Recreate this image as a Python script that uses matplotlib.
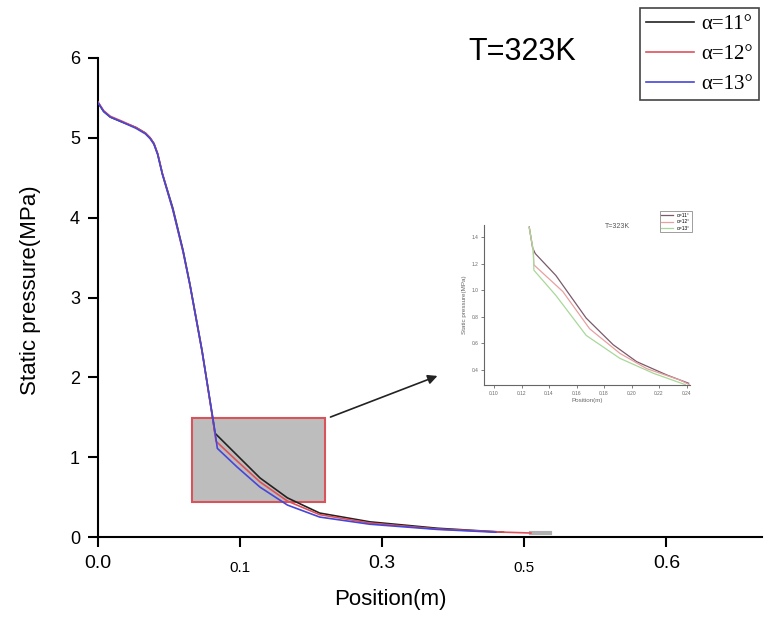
import matplotlib
matplotlib.use("Agg")
import matplotlib.pyplot as plt
from matplotlib.patches import Rectangle

plt.rcParams['font.family'] = ['Liberation Sans', 'DejaVu Sans']

# main curves: position (m) vs static pressure (MPa)
pos_11 = [0, 0.006, 0.013, 0.025, 0.04, 0.05, 0.055, 0.059, 0.063, 0.068, 0.079, 0.0898,
          0.097, 0.1098, 0.1214, 0.1235, 0.1468, 0.171, 0.2, 0.234, 0.287, 0.358, 0.428]
p_11 = [5.44, 5.33, 5.26, 5.2, 5.13, 5.06, 5.0, 4.93, 4.8, 4.55, 4.12, 3.59,
        3.17, 2.34, 1.46, 1.30, 1.025, 0.74, 0.49, 0.30, 0.19, 0.11, 0.06]

pos_12 = [0, 0.006, 0.013, 0.025, 0.04, 0.05, 0.055, 0.059, 0.063, 0.068, 0.079, 0.0898,
          0.097, 0.1098, 0.1216, 0.1245, 0.147, 0.171, 0.2, 0.234, 0.287, 0.358, 0.43, 0.457]
p_12 = [5.45, 5.34, 5.27, 5.21, 5.13, 5.06, 5.0, 4.93, 4.8, 4.55, 4.1, 3.57,
        3.16, 2.33, 1.45, 1.2, 0.95, 0.69, 0.45, 0.28, 0.175, 0.1, 0.06, 0.05]

pos_13 = [0, 0.006, 0.013, 0.025, 0.04, 0.05, 0.055, 0.059, 0.063, 0.068, 0.079, 0.0898,
          0.097, 0.1098, 0.1225, 0.126, 0.147, 0.171, 0.2, 0.234, 0.287, 0.358, 0.42]
p_13 = [5.44, 5.33, 5.26, 5.2, 5.12, 5.05, 4.99, 4.92, 4.79, 4.54, 4.1, 3.58,
        3.16, 2.33, 1.40, 1.11, 0.875, 0.625, 0.40, 0.25, 0.16, 0.095, 0.06]

tail_pos = [0.457, 0.477]
tail_p = [0.05, 0.05]

# zoomed region
box_x = [0.0993, 0.2397]
box_y = [0.44, 1.49]

x_ticks = [0, 0.15, 0.3, 0.45, 0.6]
x_labels = ['0.0', '0.1', '0.3', '0.5', '0.6']
y_ticks = [0, 1, 2, 3, 4, 5, 6]

# inset data
in_pos_11 = [0.1256, 0.128, 0.130, 0.145, 0.167, 0.1866, 0.2037, 0.2256, 0.2415]
in_p_11 = [1.475, 1.32, 1.275, 1.11, 0.79, 0.59, 0.4625, 0.3625, 0.30]
in_pos_12 = [0.1256, 0.1285, 0.129, 0.150, 0.1695, 0.1915, 0.211, 0.235, 0.242]
in_p_12 = [1.47, 1.30, 1.19, 0.99, 0.71, 0.525, 0.41, 0.325, 0.29]
in_pos_13 = [0.1256, 0.1285, 0.129, 0.145, 0.167, 0.1915, 0.2159, 0.239]
in_p_13 = [1.47, 1.30, 1.15, 0.96, 0.66, 0.4875, 0.375, 0.29]
in_x_ticks = [0.10, 0.12, 0.14, 0.16, 0.18, 0.20, 0.22, 0.24]
in_y_ticks = [0.4, 0.6, 0.8, 1.0, 1.2, 1.4]

labels = ['\u03b1=11\u00b0', '\u03b1=12\u00b0', '\u03b1=13\u00b0']

fig = plt.figure(figsize=(7.68, 6.23), dpi=100)
ax = fig.add_axes([98/768, 86/623, 664/768, 479/623])

ax.add_patch(Rectangle((box_x[0], box_y[0]), box_x[1]-box_x[0], box_y[1]-box_y[0],
                       facecolor='#bdbdbd', edgecolor='#d9545a', lw=1.5, zorder=1))
ax.plot(tail_pos, tail_p, color='#b0b0b0', lw=3, zorder=2)
l1, = ax.plot(pos_11, p_11, color='#222222', lw=1.2, zorder=3)
l2, = ax.plot(pos_12, p_12, color='#e0505a', lw=1.2, zorder=3)
l3, = ax.plot(pos_13, p_13, color='#4646d8', lw=1.2, zorder=4)

ax.annotate('', xy=(0.3611, 2.03), xytext=(box_x[1] + 0.003, box_y[1]),
            arrowprops=dict(arrowstyle='-|>', color='#222222', lw=1.2, mutation_scale=14))

ax.set_xlim(0, 0.701)
ax.set_ylim(0, 6)
ax.spines['top'].set_visible(False)
ax.spines['right'].set_visible(False)
ax.spines['left'].set_linewidth(1.5)
ax.spines['bottom'].set_linewidth(1.5)
ax.set_xticks(x_ticks)
ax.set_xticklabels(x_labels)
ax.set_yticks(y_ticks)
ax.tick_params(axis='both', direction='out', length=7, width=1.5, pad=6)
ax.tick_params(axis='x', labelsize=14)
ax.tick_params(axis='y', labelsize=13)
for lab in ax.get_xticklabels():
    if lab.get_text() in ('0.1', '0.5'):
        lab.set_fontsize(11)
        lab.set_y(-0.012)

ax.set_ylabel('Static pressure(MPa)', fontsize=16)
ax.yaxis.set_label_coords(-0.086, 0.516)
ax.set_xlabel('Position(m)', fontsize=16)
ax.xaxis.set_label_coords(0.44, -0.108)

fig.text(522/768, 1 - 52/623, 'T=323K', fontsize=22, ha='center', va='center')

leg = fig.legend([l1, l2, l3], labels, loc='upper left',
                 bbox_to_anchor=(640/768, 1 - 8/623), borderaxespad=0,
                 prop={'family': ['Liberation Serif', 'DejaVu Serif'], 'size': 15},
                 handlelength=2.3, handletextpad=0.35, labelspacing=0.5,
                 borderpad=0.3, fancybox=False, framealpha=1)
leg.get_frame().set_edgecolor('#444444')
leg.get_frame().set_linewidth(1.2)

# inset plot
axi = fig.add_axes([484/768, 1 - 385/623, 206/768, 160/623])
li1, = axi.plot(in_pos_11, in_p_11, color='#7a5a6a', lw=0.9)
li2, = axi.plot(in_pos_12, in_p_12, color='#e8a0a0', lw=0.9)
li3, = axi.plot(in_pos_13, in_p_13, color='#a8d898', lw=0.9)
axi.set_xlim(0.0927, 0.2425)
axi.set_ylim(0.287, 1.49)
axi.spines['top'].set_visible(False)
axi.spines['right'].set_visible(False)
for s in ('left', 'bottom'):
    axi.spines[s].set_color('#666666')
    axi.spines[s].set_linewidth(0.8)
axi.set_xticks(in_x_ticks)
axi.set_xticklabels(['%.2f' % v for v in in_x_ticks])
axi.set_yticks(in_y_ticks)
axi.tick_params(axis='both', direction='out', length=2, width=0.6, pad=2,
                labelsize=3.5, colors='#666666')
axi.set_ylabel('Static pressure(MPa)', fontsize=4.5, color='#666666', labelpad=3)
axi.set_xlabel('Position(m)', fontsize=4.5, color='#666666', labelpad=2)
axi.text(0.65, 0.99, 'T=323K', transform=axi.transAxes, fontsize=5,
         ha='center', va='center', color='#555555')
li = axi.legend([li1, li2, li3], labels, loc='upper right', bbox_to_anchor=(1.02, 1.1),
                fontsize=3.5, handlelength=2.5, fancybox=False, framealpha=1,
                borderpad=0.3, labelspacing=0.3)
li.get_frame().set_edgecolor('#777777')
li.get_frame().set_linewidth(0.5)

fig.savefig('out.png', dpi=100)
